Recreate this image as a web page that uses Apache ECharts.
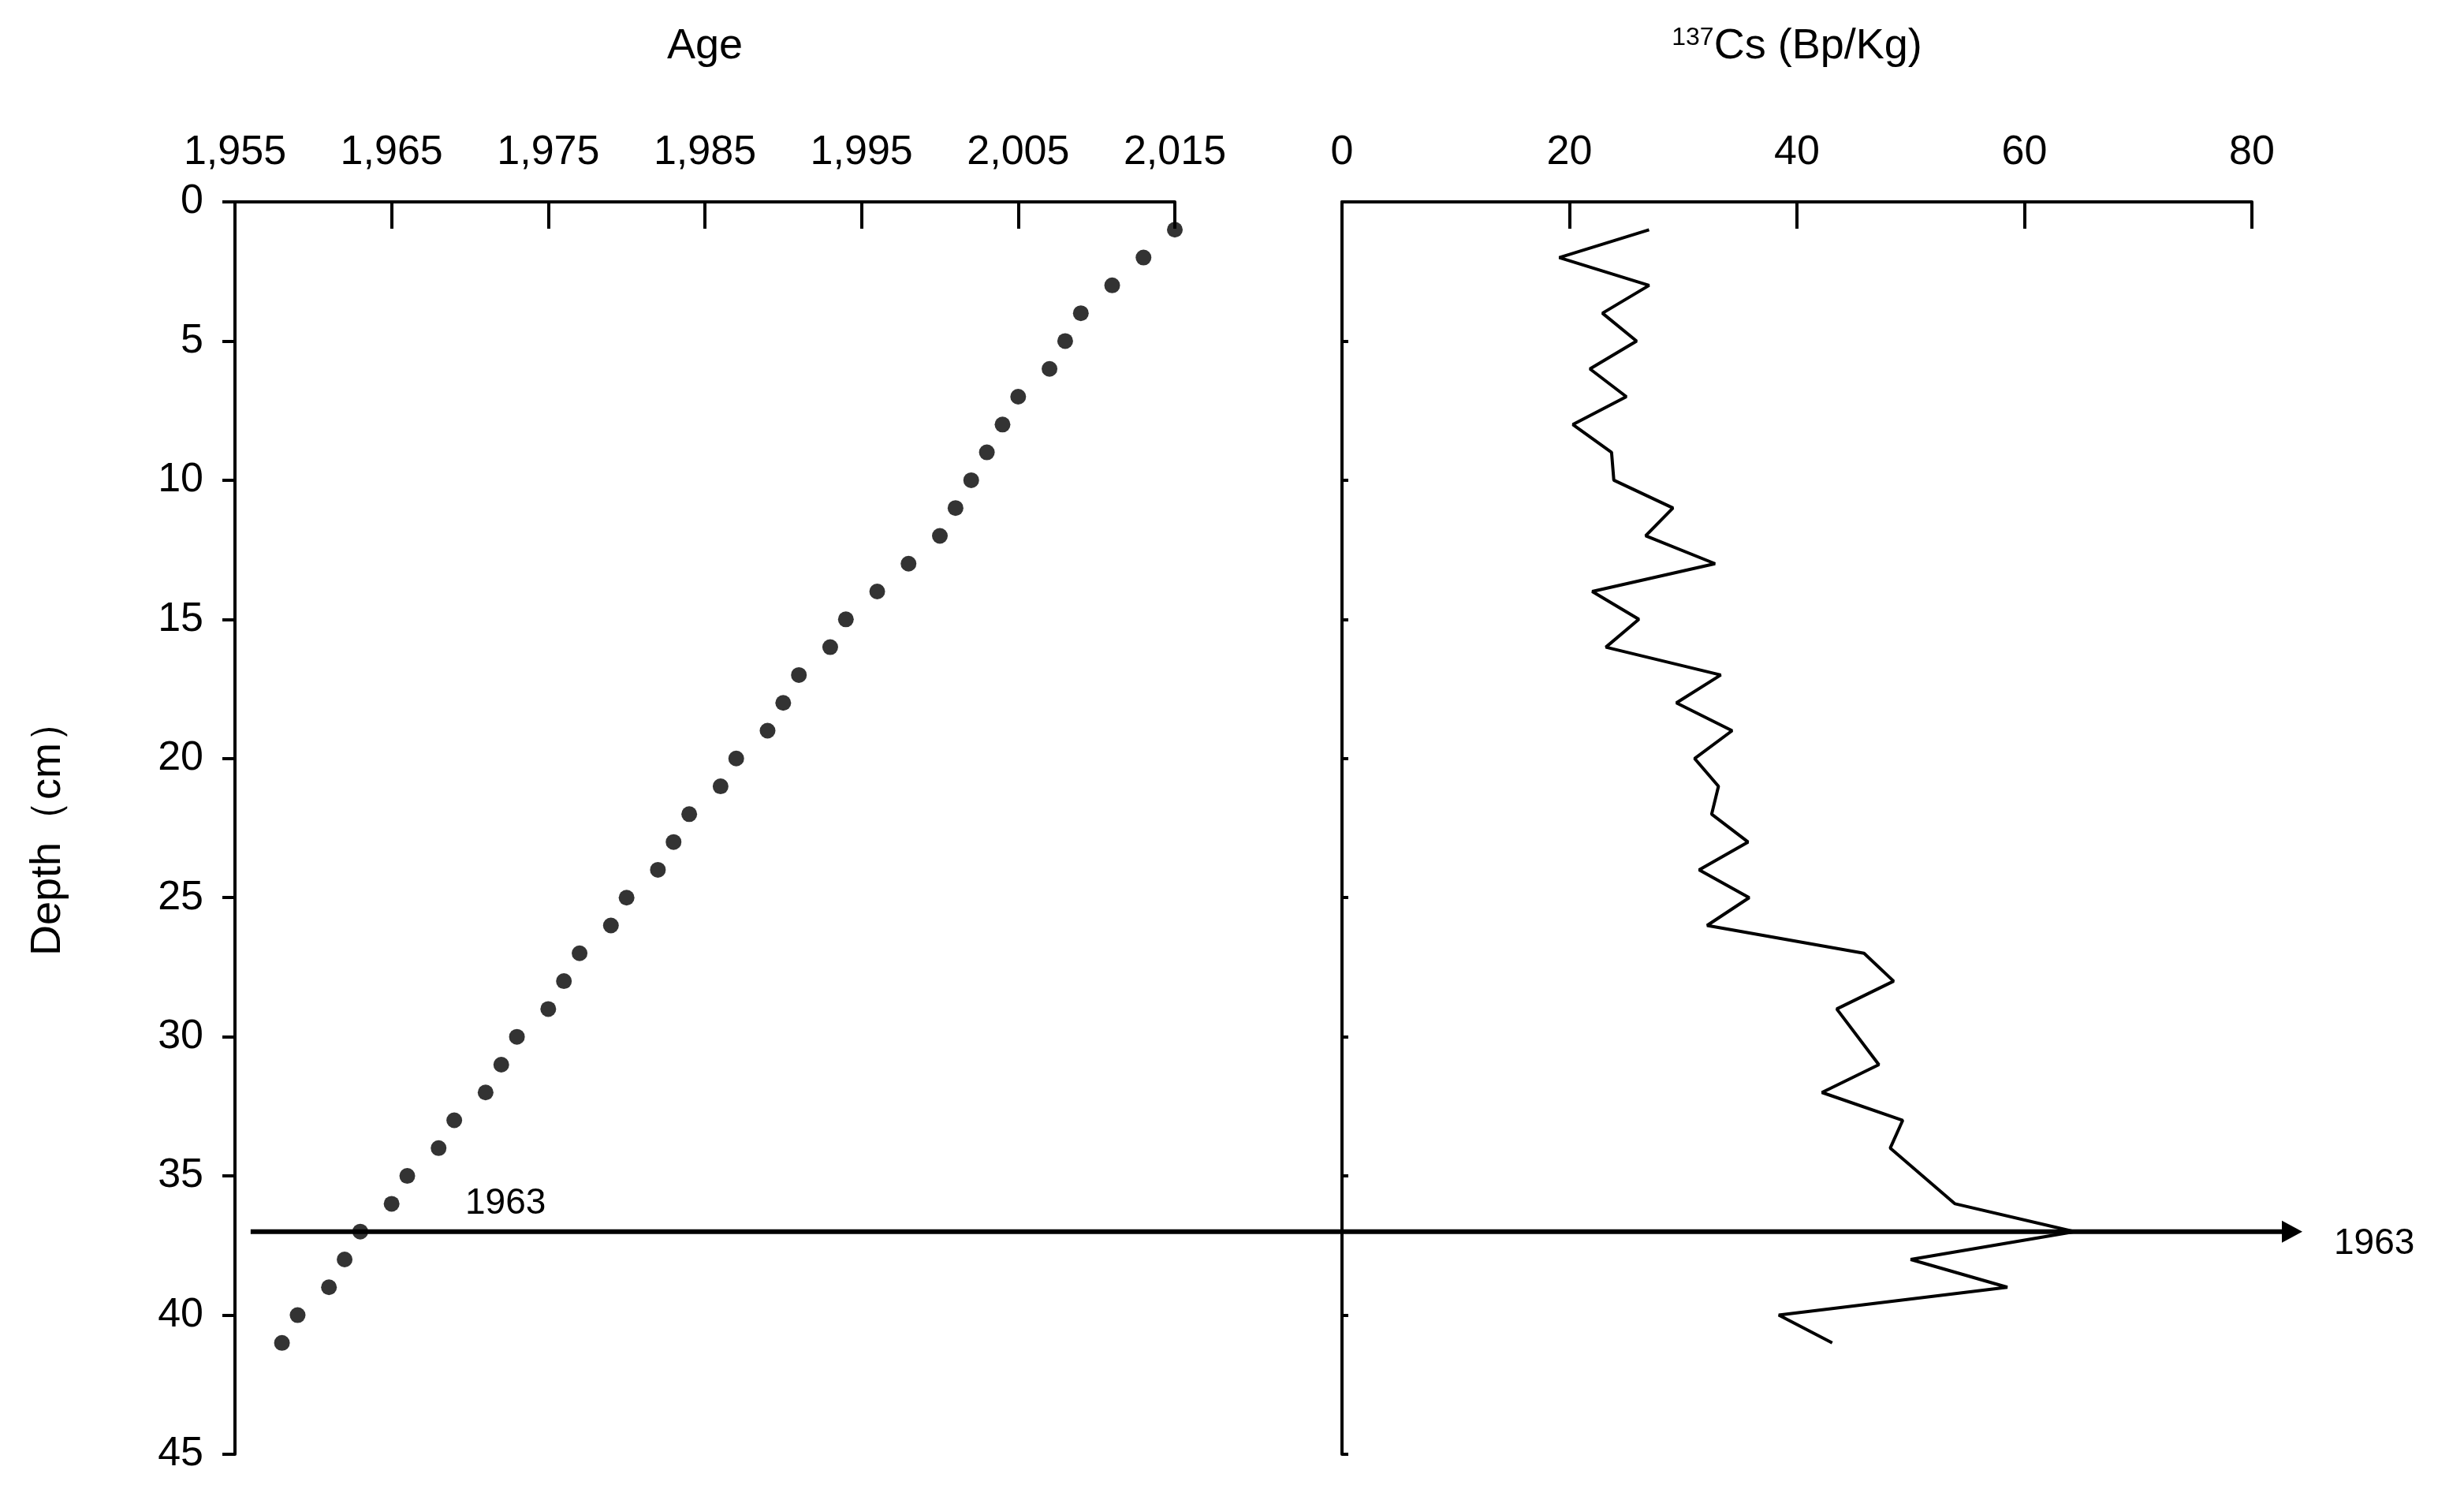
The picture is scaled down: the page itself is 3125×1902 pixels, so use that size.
<!DOCTYPE html>
<html>
<head>
<meta charset="utf-8"/>
<title>Age and 137Cs profile</title>
<script src="https://cdn.jsdelivr.net/npm/echarts@6/dist/echarts.min.js"></script>
<style>
    html, body, #chart { margin: 0; padding: 0; width: 100%; height: 100%; background: #fff; }
</style>
</head>
<body>
<div id="chart"></div>
<script>
// depth (cm) of each dated layer and its age
var ageDepth = [1,2,3,4,5,6,7,8,9,10,11,12,13,14,15,16,17,18,19,20,21,
    22,23,24,25,26,27,28,29,30,31,32,33,34,35,36,37,38,39,40,41];
var ageYear = [2015,2013,2011,2009,2008,2007,2005,2004,2003,2002,2001,2000,1998,1996,1994,1993,1991,1990,1989,1987,1986,
    1984,1983,1982,1980,1979,1977,1976,1975,1973,1972,1971,1969,1968,1966,1965,1963,1962,1961,1959,1958];
// 137Cs activity profile
var csDepth = [1,2,3,4,5,6,7,8,9,10,11,12,13,14,15,16,17,18,19,20,21,22,23,24,25,26,
    27,28,29,31,32,33,34,36,37,38,39,40,41];
var csValue = [27.0,19.1,27.0,22.9,25.9,21.8,25.0,20.3,23.7,23.9,29.1,26.7,32.8,22.0,26.1,23.2,33.3,29.4,34.3,31.0,33.1,32.5,35.7,31.4,35.8,32.1,
    45.9,48.5,43.5,47.2,42.2,49.3,48.2,53.9,64.4,50.0,58.5,38.4,43.1];
var depthTicks = [0, 45, 5];
var markerDepth = 37;
var markerLabel = '1963';

var FONT = 'Liberation Sans';
var chart = echarts.init(document.getElementById('chart'));

function pairs(a, b) {
    var out = [];
    for (var i = 0; i < a.length; i++) out.push([a[i], b[i]]);
    return out;
}

var axisLine = {lineStyle: {color: '#000', width: 4}};
var label = {color: '#000', fontSize: 52, fontFamily: FONT};

chart.setOption({
    animation: false,
    grid: [
        {left: 298, top: 256, width: 1192, height: 1588},
        {left: 1702, top: 256, width: 1154, height: 1588}
    ],
    xAxis: [
        {gridIndex: 0, type: 'value', position: 'top', min: 1955, max: 2015, interval: 10,
            name: 'Age', nameLocation: 'middle', nameGap: 170,
            nameTextStyle: {color: '#000', fontSize: 54, fontFamily: FONT},
            axisLine: axisLine, axisTick: {inside: true, length: 34, lineStyle: {color: '#000', width: 4}},
            axisLabel: Object.assign({margin: 36}, label), splitLine: {show: false}},
        {gridIndex: 1, type: 'value', position: 'top', min: 0, max: 80, interval: 20,
            name: '{sup|137}Cs (Bp/Kg)', nameLocation: 'middle', nameGap: 170,
            nameTextStyle: {color: '#000', fontSize: 54, fontFamily: FONT,
                rich: {sup: {fontSize: 32, fontFamily: FONT, color: '#000', verticalAlign: 'top', padding: [0, 0, 20, 0]}}},
            axisLine: axisLine, axisTick: {inside: true, length: 34, lineStyle: {color: '#000', width: 4}},
            axisLabel: Object.assign({margin: 36}, label), splitLine: {show: false}}
    ],
    yAxis: [
        {gridIndex: 0, type: 'value', inverse: true, min: depthTicks[0], max: depthTicks[1], interval: depthTicks[2],
            name: 'Depth（cm）', nameLocation: 'middle', nameGap: 210, nameRotate: 90,
            nameTextStyle: {color: '#000', fontSize: 54, fontFamily: FONT},
            axisLine: axisLine, axisTick: {length: 16, lineStyle: {color: '#000', width: 4}},
            axisLabel: Object.assign({margin: 40}, label), splitLine: {show: false}},
        {gridIndex: 1, type: 'value', inverse: true, min: depthTicks[0], max: depthTicks[1], interval: depthTicks[2],
            axisLine: axisLine, axisTick: {inside: true, length: 8, lineStyle: {color: '#000', width: 4}},
            axisLabel: {show: false}, splitLine: {show: false}}
    ],
    series: [
        {type: 'scatter', xAxisIndex: 0, yAxisIndex: 0, data: pairs(ageYear, ageDepth),
            symbolSize: 20, itemStyle: {color: '#000'}},
        {type: 'line', xAxisIndex: 1, yAxisIndex: 1, data: pairs(csValue, csDepth),
            symbol: 'none', lineStyle: {color: '#000', width: 4}}
    ]
});

// 1963 horizontal marker spanning both panels
var p0 = chart.convertToPixel({xAxisIndex: 0, yAxisIndex: 0}, [1956, markerDepth]);
var p1 = chart.convertToPixel({xAxisIndex: 1, yAxisIndex: 1}, [80, markerDepth]);
var y = p0[1], x0 = p0[0], x1 = p1[0] + 64;
chart.setOption({
    graphic: [
        {type: 'line', shape: {x1: x0, y1: y, x2: x1 - 20, y2: y}, style: {stroke: '#000', lineWidth: 6}},
        {type: 'polygon', shape: {points: [[x1, y], [x1 - 26, y - 14], [x1 - 26, y + 14]]}, style: {fill: '#000'}},
        {type: 'text', x: 590, y: y - 12, style: {text: markerLabel, fill: '#000', fontSize: 46, fontFamily: FONT, verticalAlign: 'bottom'}},
        {type: 'text', x: x1 + 40, y: y + 16, style: {text: markerLabel, fill: '#000', fontSize: 46, fontFamily: FONT, verticalAlign: 'middle'}}
    ]
});
</script>
</body>
</html>
